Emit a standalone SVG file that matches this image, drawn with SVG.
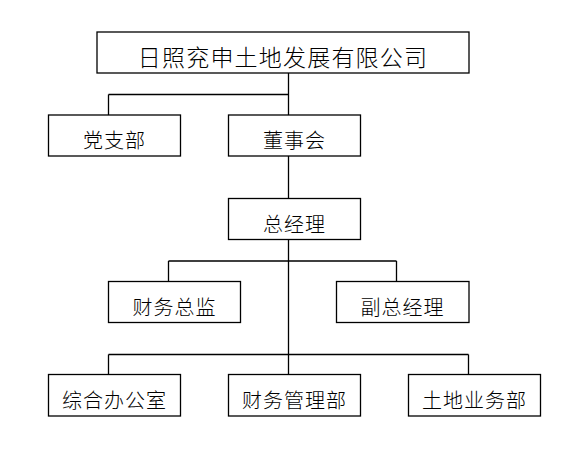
<svg xmlns="http://www.w3.org/2000/svg" width="576" height="468" viewBox="0 0 576 468">
<style>
.b{fill:#fff;stroke:#000;stroke-width:1.3}
.c path{fill:none;stroke:#000;stroke-width:1.3}
text{font-family:"Noto Sans CJK SC","Noto Sans CJK JP",sans-serif;font-size:20px;text-anchor:middle;fill:#000;font-weight:300;letter-spacing:1px}
.t{font-size:23px;letter-spacing:1.2px}
</style>
<g class="c">
<path d="M288.5 73V116M108.5 94.5H288.5M108.5 94.5V115"/>
<path d="M288.5 156V199"/>
<path d="M288.5 239V375M168.5 261H396.5M168.5 261V282M396.5 261V282"/>
<path d="M108.5 354.5H468.5M108.5 354.5V375M468.5 354.5V375"/>
</g>
<g id="n0"><rect class="b" x="97" y="32" width="372" height="41"/><text class="t" x="283" y="65.5">日照兖申土地发展有限公司</text></g>
<g id="n1"><rect class="b" x="48.5" y="115" width="132" height="41"/><text x="114.5" y="148">党支部</text></g>
<g id="n2"><rect class="b" x="228.5" y="115" width="132" height="41"/><text x="294.5" y="148">董事会</text></g>
<g id="n3"><rect class="b" x="228.5" y="198.5" width="132" height="41"/><text x="294.5" y="231.5">总经理</text></g>
<g id="n4"><rect class="b" x="108.5" y="281.5" width="132" height="41"/><text x="174.5" y="314.5">财务总监</text></g>
<g id="n5"><rect class="b" x="336.5" y="281.5" width="132.5" height="41"/><text x="402.5" y="314.5">副总经理</text></g>
<g id="n6"><rect class="b" x="48.5" y="374.5" width="132" height="41.5"/><text x="114.5" y="408">综合办公室</text></g>
<g id="n7"><rect class="b" x="228.5" y="374.5" width="132" height="41.5"/><text x="294.5" y="408">财务管理部</text></g>
<g id="n8"><rect class="b" x="408.5" y="374.5" width="132" height="41.5"/><text x="474.5" y="408">土地业务部</text></g>
</svg>
